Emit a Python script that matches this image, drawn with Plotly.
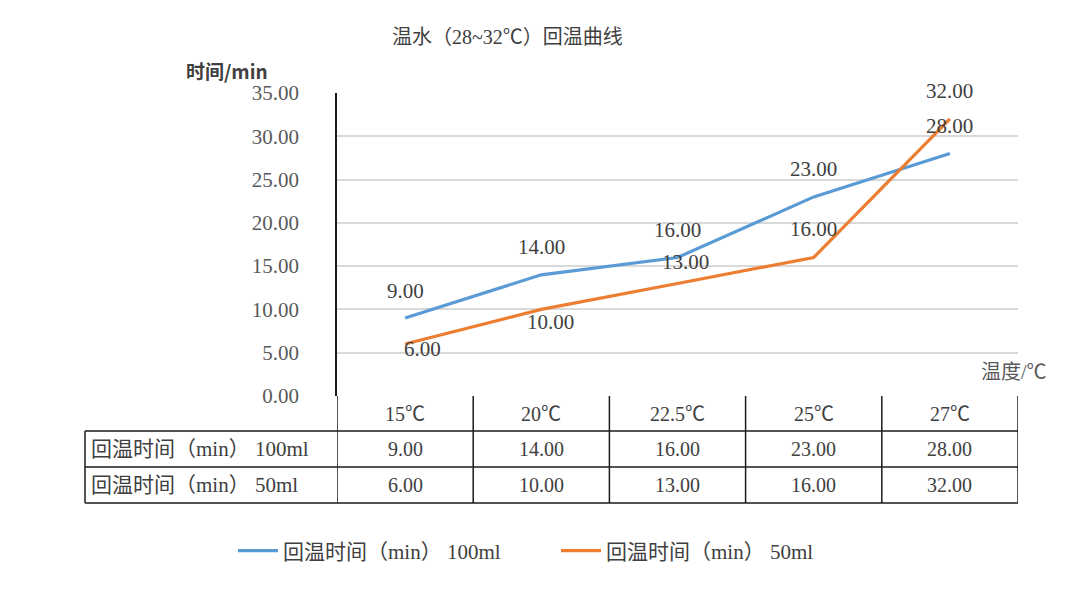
import plotly.graph_objects as go

categories = ["15℃", "20℃", "22.5℃", "25℃", "27℃"]
series_names = ["回温时间（min） 100ml", "回温时间（min） 50ml"]
time_100ml = [9, 14, 16, 23, 28]
time_50ml = [6, 10, 13, 16, 32]
y_ticks = [0, 5, 10, 15, 20, 25, 30, 35]

BLUE = "#5B9BD5"
ORANGE = "#ED7D31"
TEXT = "#404040"
SERIF = "Liberation Serif, Noto Sans CJK SC, serif"
SANS = "Noto Sans CJK SC, sans-serif"

PAGE_W, PAGE_H = 1080, 591
BODY = 8  # default body margin of the html page
W, H = PAGE_W - 2 * BODY, PAGE_H - 2 * BODY
L, R, T, B = 337, 1018, 93, 396  # plot area, page px


def px_x(px):
    return (px - L) / (R - L)


def px_y(py):
    return (B - py) / (B - T)


fig = go.Figure()
xs = list(range(len(categories)))
fig.add_trace(go.Scatter(x=xs, y=time_100ml, mode="lines", name=series_names[0],
                         line=dict(color=BLUE, width=3.2)))
fig.add_trace(go.Scatter(x=xs, y=time_50ml, mode="lines", name=series_names[1],
                         line=dict(color=ORANGE, width=3.2)))

ann = []
# data labels (offsets in px, like Excel label placement)
off_100 = [(0, 27), (0, 28), (0, 27), (0, 28), (0, 28)]
off_50 = [(17, -5), (9, -13), (8, 21), (0, 28), (0, 28)]
for vals, offs in ((time_100ml, off_100), (time_50ml, off_50)):
    for i, (v, (dx, dy)) in enumerate(zip(vals, offs)):
        ann.append(dict(x=i, y=v, xref="x", yref="y", text=f"{v:.2f}", showarrow=False,
                        xanchor="center", yanchor="middle", xshift=dx, yshift=dy,
                        font=dict(family=SERIF, size=21, color=TEXT)))

# data table
rows_px = [396, 431, 467, 503]
row_y = [px_y(p) for p in rows_px]
shapes = []
line_style = dict(color="#1a1a1a", width=1.5)
for k in range(1, 4):
    shapes.append(dict(type="line", xref="paper", yref="paper", x0=px_x(85), x1=1,
                       y0=row_y[k], y1=row_y[k], line=line_style))
shapes.append(dict(type="line", xref="paper", yref="paper", x0=px_x(85), x1=px_x(85),
                   y0=row_y[1], y1=row_y[3], line=line_style))
for b in [i - 0.5 for i in range(len(categories) + 1)]:
    shapes.append(dict(type="line", xref="x", yref="paper", x0=b, x1=b,
                       y0=row_y[0], y1=row_y[3], line=line_style))

cell_y = [(row_y[k] + row_y[k + 1]) / 2 for k in range(3)]
for i, c in enumerate(categories):
    ann.append(dict(x=i, y=cell_y[0], xref="x", yref="paper", text=c, showarrow=False,
                    xanchor="center", yanchor="middle",
                    font=dict(family=SERIF, size=20, color=TEXT)))
    for r, vals in ((1, time_100ml), (2, time_50ml)):
        ann.append(dict(x=i, y=cell_y[r], xref="x", yref="paper", text=f"{vals[i]:.2f}",
                        showarrow=False, xanchor="center", yanchor="middle",
                        font=dict(family=SERIF, size=20, color=TEXT)))
for r, name in ((1, series_names[0]), (2, series_names[1])):
    ann.append(dict(x=px_x(89), y=cell_y[r], xref="paper", yref="paper", text=name,
                    xanchor="left", yanchor="middle", showarrow=False,
                    font=dict(family=SERIF, size=21, color=TEXT)))

# titles
ann.append(dict(x=px_x(507), y=px_y(37), xref="paper", yref="paper",
                text="温水（28~32℃）回温曲线", showarrow=False,
                xanchor="center", yanchor="middle",
                font=dict(family=SERIF, size=20, color=TEXT)))
ann.append(dict(x=px_x(227), y=px_y(70), xref="paper", yref="paper", text="<b>时间/min</b>",
                showarrow=False, xanchor="center", yanchor="middle",
                font=dict(family=SANS, size=19, color=TEXT)))
ann.append(dict(x=px_x(1049), y=px_y(372), xref="paper", yref="paper", text="温度/℃",
                xanchor="right", yanchor="middle", showarrow=False,
                font=dict(family=SERIF, size=20, color="#595959")))

fig.update_layout(
    width=W, height=H,
    margin=dict(l=L - BODY, r=PAGE_W - BODY - R, t=T - BODY, b=PAGE_H - BODY - B, pad=0),
    paper_bgcolor="white", plot_bgcolor="white",
    showlegend=True,
    legend=dict(orientation="h", x=px_x(556), xanchor="center", y=px_y(551), yanchor="middle",
                font=dict(family=SERIF, size=21, color=TEXT), itemwidth=40,
                entrywidth=268, entrywidthmode="pixels"),
    annotations=ann, shapes=shapes,
)
fig.update_xaxes(range=[-0.5, len(categories) - 0.5], showticklabels=False, showgrid=False,
                 zeroline=False, showline=False, fixedrange=True)
fig.update_yaxes(range=[0, 35], tickvals=y_ticks, tickformat=".2f", showgrid=True,
                 gridcolor="#d9d9d9", gridwidth=1.5, zeroline=False, showline=True,
                 linecolor="#1a1a1a", linewidth=1.5, ticks="", ticklabelstandoff=32,
                 tickfont=dict(family=SERIF, size=21, color="#595959"), fixedrange=True)

fig.write_html("out.html")
